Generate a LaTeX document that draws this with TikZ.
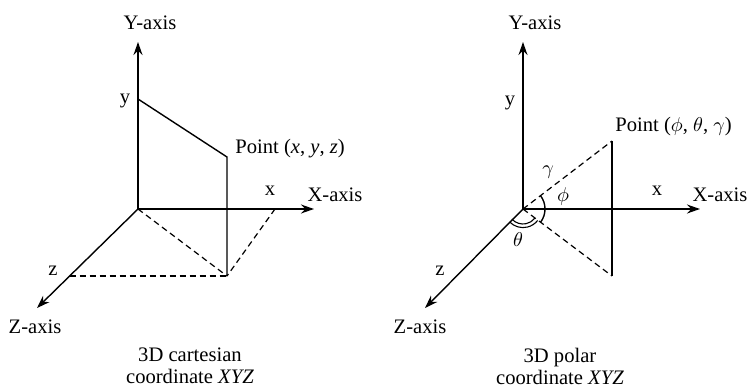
\documentclass[tikz,border=0pt]{standalone}
\usepackage{fontspec}
\setmainfont{Liberation Serif}
\usetikzlibrary{arrows.meta}
\begin{document}
\begin{tikzpicture}[x=0.5pt,y=-0.5pt,
  ln/.style={line width=0.7pt},
  ax/.style={line width=0.7pt,-{Stealth[length=6.5pt,width=4.5pt]}},
  dsh/.style={line width=0.6pt,dash pattern=on 3pt off 2pt},
  lbl/.style={inner sep=0pt,font=\fontsize{10.3}{11}\selectfont},
  captext/.style={inner sep=0pt,align=center,font=\fontsize{10.3}{11}\selectfont}]
\useasboundingbox (0,0) rectangle (750,386);
% ---------- left: cartesian ----------
\coordinate (O1) at (138,209);
\coordinate (Yt1) at (138,42);
\coordinate (Xt1) at (314,209);
\coordinate (Zt1) at (37,308);
\coordinate (Yp1) at (138,99);
\coordinate (P1) at (227,157);
\coordinate (B1) at (227,276);
\coordinate (Xp1) at (275,209);
\coordinate (Zp1) at (69.6,276);
\draw[ax] (O1) -- (Yt1);
\draw[ax] (O1) -- (Xt1);
\draw[ax] (O1) -- (Zt1);
\draw[ln] (Yp1) -- (P1) -- (B1);
\draw[dsh] (O1) -- (B1);
\draw[dsh] (Xp1) -- (B1);
\draw[dsh] (Zp1) -- (B1);
\node[lbl] (ya1) at (150,23) {Y-axis};
\node[lbl] (yl1) at (125,101) {y};
\node[lbl,anchor=west] (pl1) at (235,149) {Point (\textit{x}, \textit{y}, \textit{z})};
\node[lbl] (xl1) at (270,191) {x};
\node[lbl] (xa1) at (335,195) {X-axis};
\node[lbl] (zl1) at (53,271) {z};
\node[lbl] (za1) at (35,327) {Z-axis};
\node[captext] (c1) at (190,366) {3D cartesian\\coordinate \textit{XYZ}};
% ---------- right: polar ----------
\coordinate (O2) at (523,209);
\coordinate (Yt2) at (523,42);
\coordinate (Xt2) at (700,209);
\coordinate (Zt2) at (425,308);
\coordinate (Pt2) at (612,141);
\coordinate (Pb2) at (612,276);
\draw[ax] (O2) -- (Yt2);
\draw[ax] (O2) -- (Xt2);
\draw[ax] (O2) -- (Zt2);
\draw[ln] (Pt2) -- (Pb2);
\draw[dsh] (O2) -- (Pt2);
\draw[dsh] (O2) -- (Pb2);
\draw[ln] ([shift={(38:11pt)}]O2) arc[start angle=38,end angle=-37,radius=11pt];
\draw[line width=0.55pt] ([shift={(222:7.5pt)}]O2) arc[start angle=222,end angle=322,radius=7.5pt];
\draw[line width=0.55pt] ([shift={(224:9.3pt)}]O2) arc[start angle=224,end angle=322,radius=9.3pt];
\node[lbl] (ya2) at (535,23) {Y-axis};
\node[lbl] (yl2) at (510,103) {y};
\node[lbl,anchor=west] (pl2) at (615,127) {Point ($\phi$, $\theta$, $\gamma$)};
\node[lbl] (gl2) at (548,172) {$\gamma$};
\node[lbl] (fl2) at (563,196) {$\phi$};
\node[lbl] (tl2) at (518,240) {$\theta$};
\node[lbl] (xl2) at (657,191) {x};
\node[lbl] (xa2) at (720,195) {X-axis};
\node[lbl] (zl2) at (440,271) {z};
\node[lbl] (za2) at (420,327) {Z-axis};
\node[captext] (c2) at (560,366) {3D polar\\coordinate \textit{XYZ}};
\end{tikzpicture}
\end{document}
